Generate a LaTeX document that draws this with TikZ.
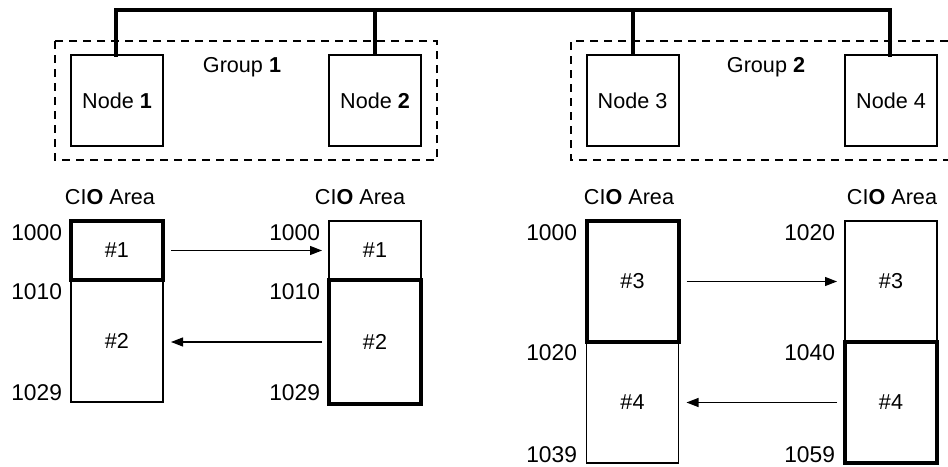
\documentclass[tikz,border=0pt]{standalone}
\usepackage{fontspec}
\setmainfont{Liberation Sans}
\usetikzlibrary{arrows.meta}
\begin{document}
\begin{tikzpicture}[x=0.5pt,y=-0.5pt,
  every node/.style={font=\fontsize{10.8}{13}\selectfont, inner sep=0pt, outer sep=0pt},
  plcbox/.style={draw, line width=1pt, minimum width=46pt, minimum height=45.5pt},
  memthin/.style={draw, line width=0.7pt, minimum width=46pt},
  memthick/.style={draw, line width=2pt, minimum width=46pt},
  bus/.style={line width=2pt},
  grp/.style={draw, dashed, line width=0.7pt, dash pattern=on 4pt off 3pt},
  addr/.style={anchor=east, font=\fontsize{11.4}{13}\selectfont},
  arr/.style={line width=0.6pt, -{Triangle[length=6pt,width=4.5pt]}}
]
\useasboundingbox (0,0) rectangle (948,466);

% groups
\draw[grp] (55,41) rectangle (437,160);
\draw[grp] (948,41) -| (571,160) -- (948,160);
\node (g1) at (242,67) {Group \textbf{1}};
\node (g2) at (766,67) {Group \textbf{2}};

% PLC nodes
\node[plcbox] (n1) at (117,100.5) {Node \textbf{1}};
\node[plcbox] (n2) at (375,100.5) {Node \textbf{2}};
\node[plcbox] (n3) at (632.5,100.5) {Node 3};
\node[plcbox] (n4) at (891,100.5) {Node 4};

% bus
\coordinate (b1) at (116,10);
\coordinate (b4) at (890,10);
\draw[bus, line cap=rect] (n1.north -| b1) -- (b1) -- (b4) -- (n4.north -| b4);
\draw[bus] (n2.north) -- (n2.north |- b1);
\draw[bus] (n3.north) -- (n3.north |- b1);

% CIO labels
\node (c1) at (110,197) {CI\textbf{O} Area};
\node (c2) at (360,197) {CI\textbf{O} Area};
\node (c3) at (629,197) {CI\textbf{O} Area};
\node (c4) at (892,197) {CI\textbf{O} Area};

% group 1 memory
\node[memthin, minimum height=61pt] (A2) at (117,341) {\#2};
\node[memthick, minimum height=29.5pt] (A1) at (117,250.5) {\#1};
\node[memthin, minimum height=29.5pt] (B1) at (375,250.5) {\#1};
\node[memthick, minimum height=62pt] (B2) at (375,342) {\#2};

\node[addr] (a1000) at (62,233) {1000};
\node[addr] (a1010) at (62,292) {1010};
\node[addr] (a1029) at (62,393) {1029};
\node[addr] (b1000) at (320,233) {1000};
\node[addr] (b1010) at (320,292) {1010};
\node[addr] (b1029) at (320,393) {1029};

\draw[arr] ([xshift=4pt]A1.east) -- ([xshift=-3.5pt]B1.west);
\draw[arr] ([xshift=-3.5pt]B2.west) -- ([xshift=4pt]B2.west -| A2.east);

% group 2 memory
\node[memthin, minimum height=60.5pt] (C2) at (632.5,402.5) {\#4};
\node[memthick, minimum height=60.5pt] (C1) at (632.5,281.5) {\#3};
\node[memthin, minimum height=60.5pt] (D1) at (891,281.5) {\#3};
\node[memthick, minimum height=60.5pt] (D2) at (891,402.5) {\#4};

\node[addr] (c1000) at (577,233) {1000};
\node[addr] (c1020) at (577,353) {1020};
\node[addr] (c1039) at (577,455) {1039};
\node[addr] (d1020) at (835,233) {1020};
\node[addr] (d1040) at (835,353) {1040};
\node[addr] (d1059) at (835,455) {1059};

\draw[arr] ([xshift=4pt]C1.east) -- ([xshift=-4pt]D1.west);
\draw[arr] ([xshift=-4pt]D2.west) -- ([xshift=4pt]C2.east);
\end{tikzpicture}
\end{document}
